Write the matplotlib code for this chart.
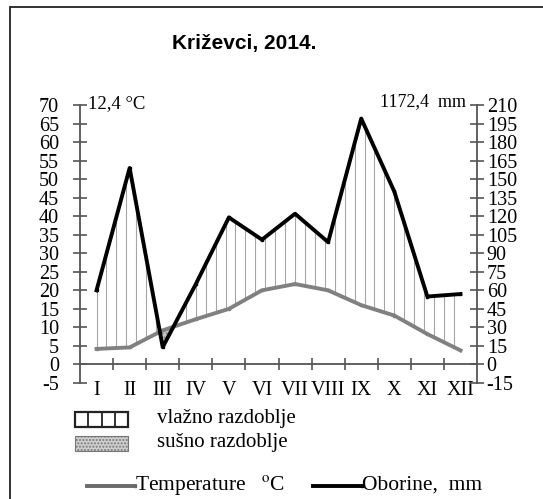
import numpy as np
import matplotlib.pyplot as plt
from matplotlib.patches import Rectangle
from matplotlib.lines import Line2D

# monthly climate data, Križevci 2014
months = ['I', 'II', 'III', 'IV', 'V', 'VI', 'VII', 'VIII', 'IX', 'X', 'XI', 'XII']
temperature = [4.2, 4.6, 9.2, 12.2, 15.0, 20.0, 21.7, 20.0, 16.0, 13.2, 8.2, 3.8]
precipitation = [60, 159, 14, 65, 119, 101, 122, 99, 199, 140, 55, 57]
left_ticks = list(range(-5, 71, 5))
right_ticks = list(range(-15, 211, 15))

SERIF = 'Liberation Serif'
SANS = 'Liberation Sans'
AXC = '#555555'
plt.rcParams['mathtext.fontset'] = 'stix'

W, H = 543, 499
fig = plt.figure(figsize=(W / 100, H / 100), dpi=100)

def px(x0, y0, x1, y1):
    return [x0 / W, 1 - y1 / H, (x1 - x0) / W, (y1 - y0) / H]

ax = fig.add_axes(px(80, 105, 477, 383))
x = np.arange(len(months))
t = np.array(temperature, float)
p = np.array(precipitation, float) / 3.0   # precipitation on the °C scale (1:3)

# vertical hatching for the wet period
xs = np.arange(0, len(months) - 1 + 1e-9, 0.3)
ti = np.interp(xs, x, t)
pi = np.interp(xs, x, p)
wet = pi > ti
ax.vlines(xs[wet], ti[wet], pi[wet], color='#a5a5a5', lw=0.8, zorder=1)
# dry period (temperature above precipitation)
ax.fill_between(x, t, p, where=t > p, interpolate=True, facecolor='#c8c8c8',
                edgecolor='#888888', hatch='....', lw=0, zorder=1)

ax.plot(x, t, color='#808080', lw=2.8, marker='s', ms=2, zorder=3)

ax.set_xlim(-0.5, len(months) - 0.5)
ax.set_ylim(-5, 70)
ax.set_yticks(left_ticks)
ax.set_yticklabels([str(v) for v in left_ticks], family=SERIF, fontsize=14.5)
ax.tick_params(axis='y', direction='inout', length=10, width=1.2, color=AXC, pad=10)

ax.spines['top'].set_visible(False)
ax.spines['right'].set_visible(False)
ax.spines['bottom'].set_position(('data', 0))
for s in ['left', 'bottom']:
    ax.spines[s].set_color(AXC)
    ax.spines[s].set_linewidth(1.3)

ax.set_xticks(np.arange(0.5, len(months) - 1, 1.0))
ax.set_xticklabels([])
ax.set_xticks(x, minor=True)
ax.set_xticklabels(months, minor=True, family=SERIF, fontsize=14.5)
ax.tick_params(axis='x', which='major', direction='inout', length=8, width=1.2, color=AXC)
ax.tick_params(axis='x', which='minor', length=0, pad=12)

ax2 = ax.twinx()
ax2.plot(x, precipitation, color='black', lw=2.8, marker='s', ms=2, zorder=4)
ax2.set_ylim(-15, 210)
ax2.set_yticks(right_ticks)
ax2.set_yticklabels([str(v) for v in right_ticks], family=SERIF, fontsize=14.5)
ax2.tick_params(axis='y', direction='inout', length=10, width=1.2, color=AXC, pad=2)
for s in ['top', 'left', 'bottom']:
    ax2.spines[s].set_visible(False)
ax2.spines['right'].set_color(AXC)
ax2.spines['right'].set_linewidth(1.3)

fig.text(244 / W, 1 - 43 / H, 'Križevci, 2014.', family=SANS, weight='bold',
         fontsize=15, ha='center', va='center')
fig.text(88 / W, 1 - 104 / H, '12,4 °C', family=SERIF, fontsize=13.5, ha='left', va='center')
fig.text(466 / W, 1 - 102 / H, '1172,4  mm', family=SERIF, fontsize=13, ha='right', va='center')

# legend, drawn by hand
fig.patches.append(Rectangle((75 / W, 1 - 427 / H), 53 / W, 15 / H, transform=fig.transFigure,
                             facecolor='white', edgecolor='#222222', lw=1.6))
for k in range(1, 4):
    xk = (75 + 53 * k / 4) / W
    fig.lines.append(Line2D([xk, xk], [1 - 427 / H, 1 - 412 / H], transform=fig.transFigure,
                            color='#222222', lw=1.3))
fig.patches.append(Rectangle((75 / W, 1 - 451 / H), 53 / W, 15 / H, transform=fig.transFigure,
                             facecolor='#d0d0d0', edgecolor='#777777', hatch='.....', lw=0.8))
fig.text(157 / W, 1 - 419 / H, 'vlažno razdoblje', family=SERIF, fontsize=15, va='center')
fig.text(157 / W, 1 - 443 / H, 'sušno razdoblje', family=SERIF, fontsize=15, va='center')

fig.lines.append(Line2D([87 / W, 135 / W], [1 - 486 / H] * 2, transform=fig.transFigure,
                        color='#6a6a6a', lw=2.8, marker='s', ms=2, markevery=[1]))
fig.text(135 / W, 1 - 485 / H, 'Temperature   $^{\\mathrm{o}}$C', family=SERIF,
         fontsize=15.5, va='center')
fig.lines.append(Line2D([313 / W, 362 / W], [1 - 486 / H] * 2, transform=fig.transFigure,
                        color='black', lw=2.8, marker='s', ms=2, markevery=[1]))
fig.text(362 / W, 1 - 485 / H, 'Oborine,  mm', family=SERIF, fontsize=15.5, va='center')

# outer frame (cropped on the right and bottom)
fig.patches.append(Rectangle((10 / W, -0.05), 1.2, 1.05 - 7 / H, transform=fig.transFigure,
                             fill=False, edgecolor='#222222', lw=1.3))

fig.savefig('out.png', dpi=100)
